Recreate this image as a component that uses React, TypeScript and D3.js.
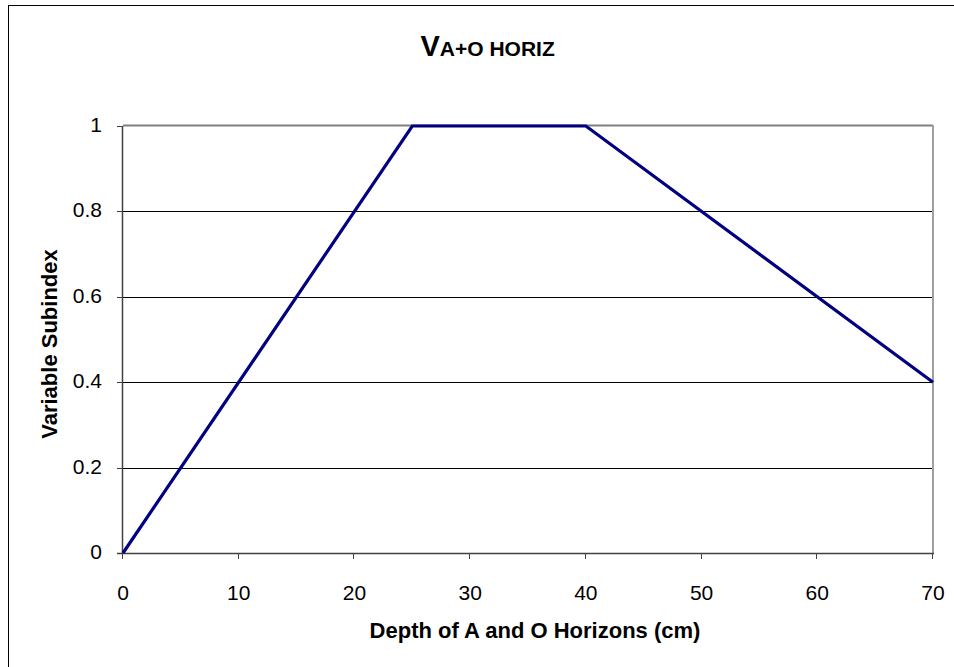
import React from "react";
import * as d3 from "d3";

const depth = [0, 25, 40, 70];
const subindex = [0, 1, 1, 0.4];
const xTicks = [0, 10, 20, 30, 40, 50, 60, 70];
const yTicks = [0, 0.2, 0.4, 0.6, 0.8, 1];

export default function App() {
  const W = 954, H = 667;
  const left = 123, right = 933, top = 126, bottom = 553;
  const x = d3.scaleLinear().domain([0, 70]).range([left, right]);
  const y = d3.scaleLinear().domain([0, 1]).range([bottom, top]);
  const pts = depth.map((d, i) => [d, subindex[i]] as [number, number]);
  const line = d3.line<[number, number]>().x(d => x(d[0])).y(d => y(d[1]));
  const font = "'Liberation Sans', Arial, sans-serif";
  return (
    <svg width={W} height={H} style={{ position: "absolute", left: 0, top: 0 }} fontFamily={font}>
      <rect x={0} y={0} width={W} height={H} fill="#fff" />
      <rect x={8.5} y={5.5} width={W + 10} height={H + 10} fill="none" stroke="#000" strokeWidth={1} />
      {yTicks.filter(t => t > 0 && t < 1).map(t => (
        <line key={t} x1={left} x2={right} y1={Math.round(y(t)) + 0.5} y2={Math.round(y(t)) + 0.5} stroke="#000" strokeWidth={1} />
      ))}
      <line x1={left} x2={right} y1={top - 0.5} y2={top - 0.5} stroke="#808080" strokeWidth={2} />
      <line x1={right} x2={right} y1={top - 1} y2={bottom} stroke="#a0a0a0" strokeWidth={2} />
      <line x1={left - 0.5} x2={left - 0.5} y1={top} y2={bottom} stroke="#404040" strokeWidth={1.5} />
      <line x1={left - 6} x2={right + 1} y1={bottom + 0.5} y2={bottom + 0.5} stroke="#404040" strokeWidth={1.5} />
      {yTicks.map(t => (
        <g key={t}>
          <line x1={left - 6} x2={left} y1={Math.round(y(t)) + 0.5} y2={Math.round(y(t)) + 0.5} stroke="#404040" strokeWidth={1} />
          <text x={102} y={y(t) + 6} textAnchor="end" fontSize={21} fill="#000">{t}</text>
        </g>
      ))}
      {xTicks.map(t => (
        <g key={t}>
          <line x1={Math.round(x(t)) - 0.5} x2={Math.round(x(t)) - 0.5} y1={bottom} y2={bottom + 6} stroke="#404040" strokeWidth={1} />
          <text x={x(t)} y={600} textAnchor="middle" fontSize={21} fill="#000">{t}</text>
        </g>
      ))}
      <path d={line(pts) || ""} fill="none" stroke="#000080" strokeWidth={3.2} strokeLinejoin="miter" />
      <text x={535} y={638} textAnchor="middle" fontSize={22} fontWeight="bold" fill="#000">Depth of A and O Horizons (cm)</text>
      <text transform={`translate(57,344) rotate(-90)`} textAnchor="middle" fontSize={22} fontWeight="bold" fill="#000">Variable Subindex</text>
      <text x={420.5} y={56} fontWeight="bold" fill="#000">
        <tspan fontSize={29}>V</tspan>
        <tspan fontSize={21}>A+O HORIZ</tspan>
      </text>
    </svg>
  );
}
